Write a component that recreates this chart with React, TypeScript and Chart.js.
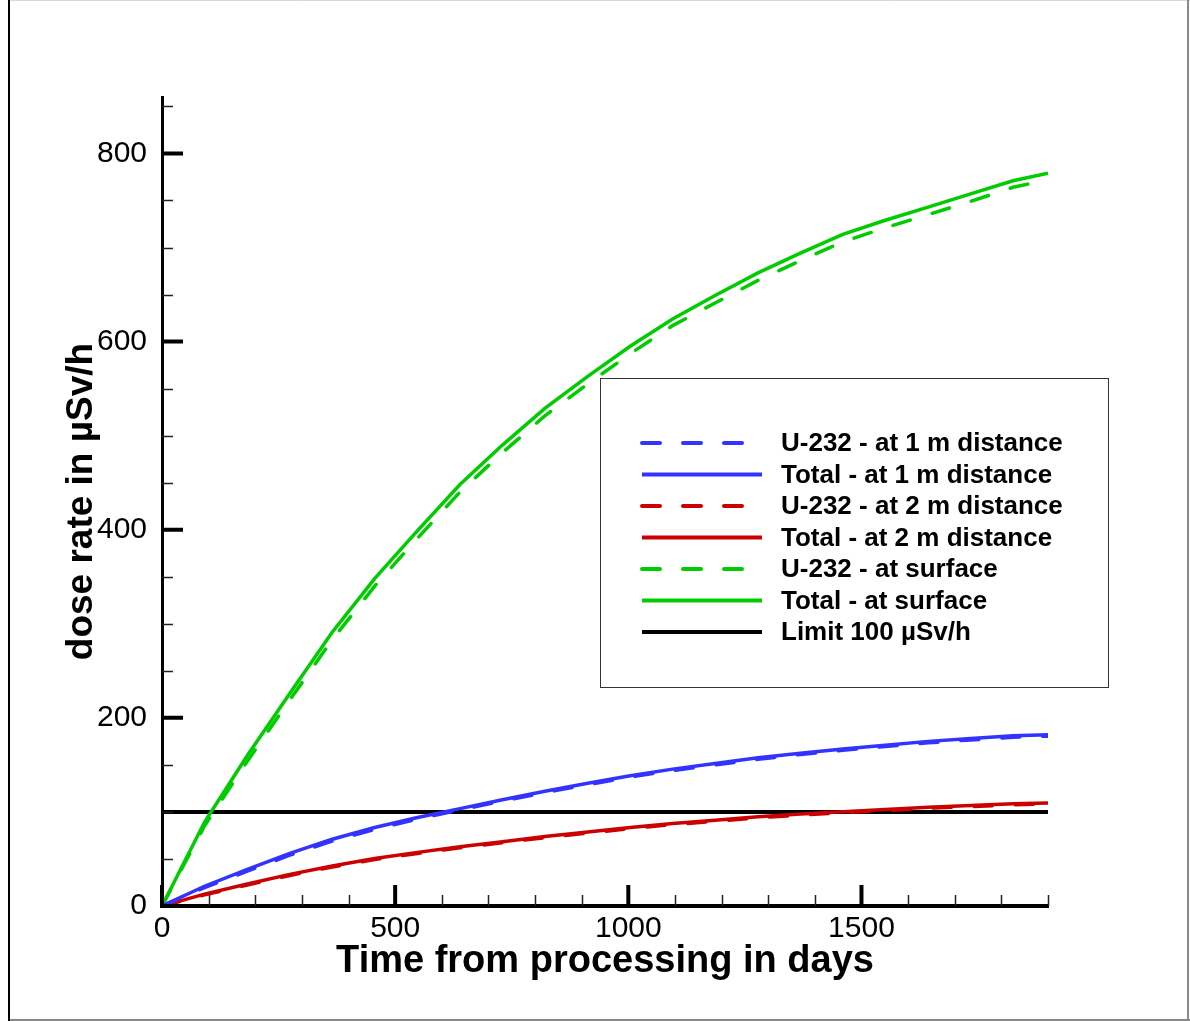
import React, { useEffect, useRef } from "react";
import { Chart, registerables } from "chart.js";

Chart.register(...registerables);

// ---------------- data ----------------
const DAYS = [0, 91, 183, 274, 365, 456, 548, 639, 730, 821, 913, 1004, 1095, 1186, 1278, 1369, 1460, 1551, 1643, 1734, 1825, 1900];

const U232_1M = [0, 19.5, 37, 54, 69, 81.5, 92.5, 102, 111.5, 120.5, 129, 137, 144, 150, 156, 161, 165.5, 169.5, 173.5, 176.5, 179.5, 180.5];
const TOTAL_1M = [0, 21, 39, 56, 71, 83.5, 94, 103.5, 113, 122, 130.5, 138.5, 145.5, 151.5, 157.5, 162.5, 167, 171, 175, 178, 181, 182];
const U232_2M = [0, 11.8, 22.4, 32.5, 41.5, 49.3, 55.9, 61.9, 67.3, 72.7, 77.5, 82.3, 86.5, 90.1, 93.7, 96.7, 99.1, 101.5, 103.9, 105.7, 107.5, 108.5];
const TOTAL_2M = [0, 12.6, 23.4, 33.6, 42.6, 50.4, 57, 63, 68.4, 73.8, 78.6, 83.4, 87.6, 91.2, 94.8, 97.8, 100.2, 102.6, 105, 106.8, 108.6, 109.6];
const U232_SURFACE = [0, 85, 154, 219, 283, 340, 391, 440, 482, 521, 555, 587, 617, 641, 665, 686, 706, 721, 735, 749, 764, 772];
const TOTAL_SURFACE = [0, 89, 160, 226, 291, 348, 399, 448, 490, 529, 563, 595, 624, 649, 673, 694, 714, 729, 743, 757, 771, 779];

const LIMIT_DAYS = [0, 1900];
const LIMIT_VALUES = [100, 100];

const SERIES_LABELS = [
  "U-232 - at 1 m distance",
  "Total - at 1 m distance",
  "U-232 - at 2 m distance",
  "Total - at 2 m distance",
  "U-232 - at surface",
  "Total - at surface",
  "Limit 100 \u00b5Sv/h",
];

const X_MAX = 1900;
const Y_MAX = 860;
const X_MAJOR_TICKS = [0, 500, 1000, 1500];
const X_MINOR_TICKS = [100, 200, 300, 400, 600, 700, 800, 900, 1100, 1200, 1300, 1400, 1600, 1700, 1800, 1900];
const Y_MAJOR_TICKS = [0, 200, 400, 600, 800];
const Y_MINOR_TICKS = [50, 100, 150, 250, 300, 350, 450, 500, 550, 650, 700, 750, 850];

const X_TITLE = "Time from processing in days";
const Y_TITLE = "dose rate in \u00b5Sv/h";

// ---------------- styles ----------------
const FONT = "'Liberation Sans', Arial, Helvetica, sans-serif";
const BLUE = "rgb(51,51,255)";
const RED = "rgb(204,0,0)";
const GREEN = "rgb(0,204,0)";
const DASH = [18, 23];

function pts(xs: number[], ys: number[]) {
  return xs.map((x, i) => ({ x, y: ys[i] }));
}

const axisDecor = {
  id: "axisDecor",
  afterDatasetsDraw(chart: any) {
    const ctx = chart.ctx;
    const xs = chart.scales.x;
    const ys = chart.scales.y;
    const { left, bottom } = chart.chartArea;
    ctx.save();
    ctx.strokeStyle = "#000";
    // major ticks (inward)
    ctx.lineWidth = 4;
    ctx.beginPath();
    X_MAJOR_TICKS.forEach((v) => {
      const px = xs.getPixelForValue(v);
      ctx.moveTo(px, bottom);
      ctx.lineTo(px, bottom - 21);
    });
    Y_MAJOR_TICKS.forEach((v) => {
      const py = ys.getPixelForValue(v);
      ctx.moveTo(left, py);
      ctx.lineTo(left + 21, py);
    });
    ctx.stroke();
    // minor ticks
    ctx.lineWidth = 1.5;
    ctx.strokeStyle = "#222";
    ctx.beginPath();
    X_MINOR_TICKS.forEach((v) => {
      const px = Math.round(xs.getPixelForValue(v)) + 0.5;
      ctx.moveTo(px, bottom);
      ctx.lineTo(px, bottom - 11);
    });
    Y_MINOR_TICKS.forEach((v) => {
      const py = Math.round(ys.getPixelForValue(v)) + 0.5;
      ctx.moveTo(left, py);
      ctx.lineTo(left + 11, py);
    });
    ctx.stroke();
    ctx.restore();
  },
  afterDraw(chart: any) {
    const ctx = chart.ctx;
    ctx.save();
    // legend box
    const bx = 600.5, by = 378.5, bw = 508, bh = 309;
    ctx.fillStyle = "#fff";
    ctx.fillRect(bx, by, bw, bh);
    ctx.strokeStyle = "#333";
    ctx.lineWidth = 1;
    ctx.strokeRect(bx, by, bw, bh);
    ctx.font = `bold 26px ${FONT}`;
    ctx.textBaseline = "middle";
    ctx.textAlign = "left";
    chart.data.datasets.forEach((ds: any, i: number) => {
      const y = 443 + i * 31.5;
      ctx.beginPath();
      ctx.strokeStyle = ds.borderColor;
      ctx.lineWidth = 4;
      ctx.lineCap = ds.borderDash && ds.borderDash.length ? "round" : "butt";
      ctx.setLineDash(ds.borderDash || []);
      ctx.moveTo(642, y);
      ctx.lineTo(762, y);
      ctx.stroke();
      ctx.setLineDash([]);
      ctx.fillStyle = "#000";
      ctx.fillText(ds.label, 781, y + 1);
    });
    // outer frame
    ctx.lineCap = "butt";
    ctx.lineWidth = 1;
    ctx.strokeStyle = "#d8d8d8";
    ctx.beginPath();
    ctx.moveTo(8, 0.5);
    ctx.lineTo(1190, 0.5);
    ctx.stroke();
    ctx.strokeStyle = "#888";
    ctx.lineWidth = 2;
    ctx.beginPath();
    ctx.moveTo(1188, 0);
    ctx.lineTo(1188, 1021);
    ctx.moveTo(8, 1020);
    ctx.lineTo(1190, 1020);
    ctx.stroke();
    ctx.strokeStyle = "#000";
    ctx.beginPath();
    ctx.moveTo(9, 0);
    ctx.lineTo(9, 1021);
    ctx.stroke();
    ctx.restore();
  },
};

export default function App() {
  const ref = useRef<HTMLCanvasElement | null>(null);

  useEffect(() => {
    document.body.style.margin = "0";
    document.body.style.overflow = "hidden";
    const canvas = ref.current;
    if (!canvas) return;
    const mk = (label: string, ys: number[], color: string, dashed: boolean) => ({
      label,
      data: pts(DAYS, ys),
      borderColor: color,
      backgroundColor: color,
      borderWidth: 3.5,
      borderDash: dashed ? DASH : [],
      borderCapStyle: dashed ? "round" : "butt",
      pointRadius: 0,
      fill: false,
      tension: 0,
    });
    const datasets: any[] = [
      mk(SERIES_LABELS[0], U232_1M, BLUE, true),
      mk(SERIES_LABELS[1], TOTAL_1M, BLUE, false),
      mk(SERIES_LABELS[2], U232_2M, RED, true),
      mk(SERIES_LABELS[3], TOTAL_2M, RED, false),
      mk(SERIES_LABELS[4], U232_SURFACE, GREEN, true),
      mk(SERIES_LABELS[5], TOTAL_SURFACE, GREEN, false),
      {
        label: SERIES_LABELS[6],
        data: pts(LIMIT_DAYS, LIMIT_VALUES),
        borderColor: "#000",
        backgroundColor: "#000",
        borderWidth: 4,
        borderDash: [],
        pointRadius: 0,
        fill: false,
      },
    ];
    const chart = new Chart(canvas, {
      type: "line",
      data: { datasets },
      options: {
        responsive: false,
        animation: false,
        devicePixelRatio: 1,
        layout: { padding: { top: 97, right: 142, left: 0, bottom: 0 } },
        plugins: { legend: { display: false }, tooltip: { enabled: false } },
        scales: {
          x: {
            type: "linear",
            min: 0,
            max: X_MAX,
            afterFit: (s: any) => {
              s.height = 115;
            },
            afterBuildTicks: (s: any) => {
              s.ticks = X_MAJOR_TICKS.map((v) => ({ value: v }));
            },
            grid: { display: false, drawTicks: false },
            border: { display: true, color: "#000", width: 4 },
            ticks: {
              padding: 5,
              color: "#000",
              maxRotation: 0,
              autoSkip: false,
              font: { family: FONT, size: 30 },
              callback: (v: any) => String(v),
            },
            title: {
              display: true,
              text: X_TITLE,
              color: "#000",
              font: { family: FONT, size: 38, weight: "bold" },
              padding: { top: 0, bottom: 37 },
            },
          },
          y: {
            type: "linear",
            min: 0,
            max: Y_MAX,
            afterFit: (s: any) => {
              s.width = 162;
            },
            afterBuildTicks: (s: any) => {
              s.ticks = Y_MAJOR_TICKS.map((v) => ({ value: v }));
            },
            grid: { display: false, drawTicks: false },
            border: { display: true, color: "#000", width: 3 },
            ticks: {
              padding: 15,
              color: "#000",
              autoSkip: false,
              font: { family: FONT, size: 30 },
              callback: (v: any) => String(v),
            },
            title: {
              display: true,
              text: Y_TITLE,
              color: "#000",
              font: { family: FONT, size: 37, weight: "bold" },
              padding: { top: 60, bottom: 0 },
            },
          },
        },
      },
      plugins: [axisDecor],
    } as any);
    return () => chart.destroy();
  }, []);

  return (
    <canvas
      ref={ref}
      width={1190}
      height={1021}
      style={{ display: "block", width: 1190, height: 1021 }}
    />
  );
}
